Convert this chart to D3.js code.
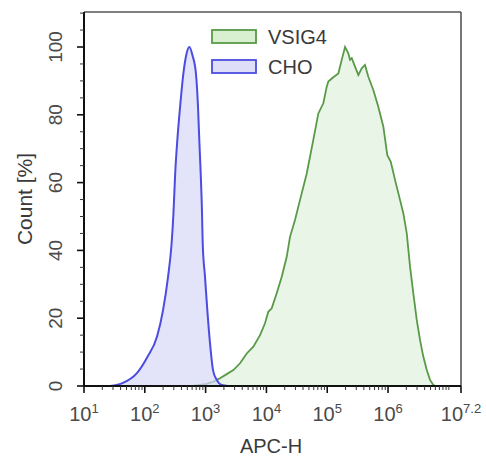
<!DOCTYPE html>
<html><head><meta charset="utf-8">
<script src="https://cdn.jsdelivr.net/npm/d3@7/dist/d3.min.js"></script>
<style>body{margin:0;background:#fff}svg{display:block}text{font-family:"Liberation Sans",Arial,sans-serif}</style>
</head><body>
<svg id="c" width="486" height="458"></svg>
<script>
// log10(APC-H) and Count [%]
const choExp = [1.43,1.64,1.87,2.04,2.20,2.30,2.38,2.44,2.47,2.50,2.535,2.58,2.633,2.68,2.732,2.785,2.842,2.875,2.896,2.919,2.941,2.952,2.99,3.028,3.072,3.122,3.183,3.265,3.37];
const choVal = [0,0.9,3.8,8.5,14.5,22.4,31.9,41.9,50.5,62.8,72.6,82.3,92.0,97.5,100,97.5,92.0,82.3,72.6,62.8,51,42.2,32.2,22.4,12.7,4.7,1.8,0.3,0];
const vsExp = [2.79,3.018,3.127,3.237,3.347,3.456,3.566,3.676,3.785,3.895,3.977,4.031,4.087,4.168,4.252,4.334,4.388,4.47,4.553,4.663,4.771,4.854,4.936,4.992,5.018,5.095,5.183,5.238,5.293,5.347,5.375,5.403,5.457,5.512,5.567,5.621,5.676,5.758,5.84,5.923,5.988,6.044,6.115,6.197,6.252,6.308,6.362,6.416,6.472,6.526,6.581,6.637,6.691,6.745,6.79];
const vsVal = [0,0.6,1.3,2.3,3.5,4.7,6.7,9.6,11.6,15.0,18.5,21.9,22.9,27.3,32.2,38.1,44.0,49.0,54.9,62.7,72.6,80.4,83.4,88.3,89.8,91.0,92.2,96.2,100,98.1,96.2,96.7,94.2,91.7,93.7,94.7,91.2,87.3,82.4,76.5,68.1,66.2,60.8,54.9,50.9,45.0,35.2,27.3,19.5,13.6,8.6,4.7,1.8,0.3,0];
const xTickExp = [1,2,3,4,5,6,7.2];
const xTickLabels = ["1","2","3","4","5","6","7.2"];
const yTicks = [0,20,40,60,80,100];
const seriesNames = ["VSIG4","CHO"];

const svg = d3.select("#c");
const L=84, R=461, T=12, B=386;
const x = d3.scaleLog().domain([10, Math.pow(10,7.2)]).range([L,R]);
const y = d3.scaleLinear().domain([0,100]).range([B,47]);
const yMax = y.invert(T);

const vsData = vsExp.map((e,i)=>({v:Math.pow(10,e), c:vsVal[i]}));
const choData = choExp.map((e,i)=>({v:Math.pow(10,e), c:choVal[i]}));

const area = d3.area().x(d=>x(d.v)).y0(y(0)).y1(d=>y(d.c));
const line = d3.line().x(d=>x(d.v)).y(d=>y(d.c));
const smoothArea = d3.area().x(d=>x(d.v)).y0(y(0)).y1(d=>y(d.c)).curve(d3.curveMonotoneX);
const smoothLine = d3.line().x(d=>x(d.v)).y(d=>y(d.c)).curve(d3.curveMonotoneX);

const green="#589a48", greenFill="#e9f5e7", blue="#4c4ce0", blueFill="rgba(215,215,248,0.7)";

svg.append("path").datum(vsData).attr("d",area).attr("fill",greenFill);
svg.append("path").datum(vsData).attr("d",line).attr("fill","none").attr("stroke",green).attr("stroke-width",1.8);
svg.append("path").datum(choData).attr("d",smoothArea).attr("fill",blueFill);
svg.append("path").datum(choData).attr("d",smoothLine).attr("fill","none").attr("stroke",blue).attr("stroke-width",2);

// frame
svg.append("line").attr("x1",L).attr("x2",R).attr("y1",T).attr("y2",T).attr("stroke","#555").attr("stroke-width",1.6);
svg.append("line").attr("x1",R).attr("x2",R).attr("y1",T).attr("y2",B).attr("stroke","#555").attr("stroke-width",1.6);

// x axis
const minor=[];
for(let k=1;k<=7;k++) for(let m=(k===1?2:1);m<=9;m++){const v=m*Math.pow(10,k); if(v<x.domain()[1] && !(m===1&&k<7)) minor.push(v);}
const gx = svg.append("g").attr("transform",`translate(0,${B})`);
gx.append("line").attr("x1",L).attr("x2",R).attr("stroke","#111").attr("stroke-width",2);
gx.selectAll(".mn").data(minor).join("line").attr("x1",d=>x(d)).attr("x2",d=>x(d)).attr("y1",0).attr("y2",4).attr("stroke","#333").attr("stroke-width",1);
gx.selectAll(".mj").data(xTickExp).join("line").attr("x1",d=>x(Math.pow(10,d))).attr("x2",d=>x(Math.pow(10,d))).attr("y1",0).attr("y2",7).attr("stroke","#111").attr("stroke-width",1.6);
const xl = gx.selectAll(".xl").data(xTickExp).join("text").attr("x",d=>x(Math.pow(10,d))).attr("y",35).attr("text-anchor","middle").attr("fill","#4a4a4a").attr("font-size",20);
xl.append("tspan").text("10");
xl.append("tspan").attr("dy",-8).attr("font-size",13).text((d,i)=>xTickLabels[i]);

// y axis
const gy = svg.append("g");
gy.append("line").attr("x1",L).attr("x2",L).attr("y1",T).attr("y2",B).attr("stroke","#111").attr("stroke-width",2);
gy.selectAll(".ymn").data(d3.range(5,yMax,5).filter(v=>v%20!==0)).join("line").attr("x1",L-4).attr("x2",L).attr("y1",d=>y(d)).attr("y2",d=>y(d)).attr("stroke","#333").attr("stroke-width",1);
gy.selectAll(".ymj").data(yTicks).join("line").attr("x1",L-7).attr("x2",L).attr("y1",d=>y(d)).attr("y2",d=>y(d)).attr("stroke","#111").attr("stroke-width",1.6);
gy.selectAll(".yl").data(yTicks).join("text").attr("transform",d=>`translate(62,${y(d)}) rotate(-90)`).attr("text-anchor","middle").attr("fill","#4a4a4a").attr("font-size",19).text(d=>d);

// axis titles
svg.append("text").attr("transform","translate(32,199) rotate(-90)").attr("text-anchor","middle").attr("fill","#3a3a3a").attr("font-size",21).text("Count [%]");
svg.append("text").attr("x",271).attr("y",453).attr("text-anchor","middle").attr("fill","#3a3a3a").attr("font-size",20).text("APC-H");

// legend
const leg = svg.append("g");
const legStroke=[green,blue], legFill=["#d8f0d0","#dedef8"], legY=[30,60];
seriesNames.forEach((n,i)=>{
  leg.append("rect").attr("x",212).attr("y",legY[i]).attr("width",44).attr("height",13).attr("fill",legFill[i]).attr("stroke",legStroke[i]).attr("stroke-width",1.8);
  leg.append("text").attr("x",268).attr("y",legY[i]+14).attr("fill","#3a3a3a").attr("font-size",20).text(n);
});
</script>
</body></html>
